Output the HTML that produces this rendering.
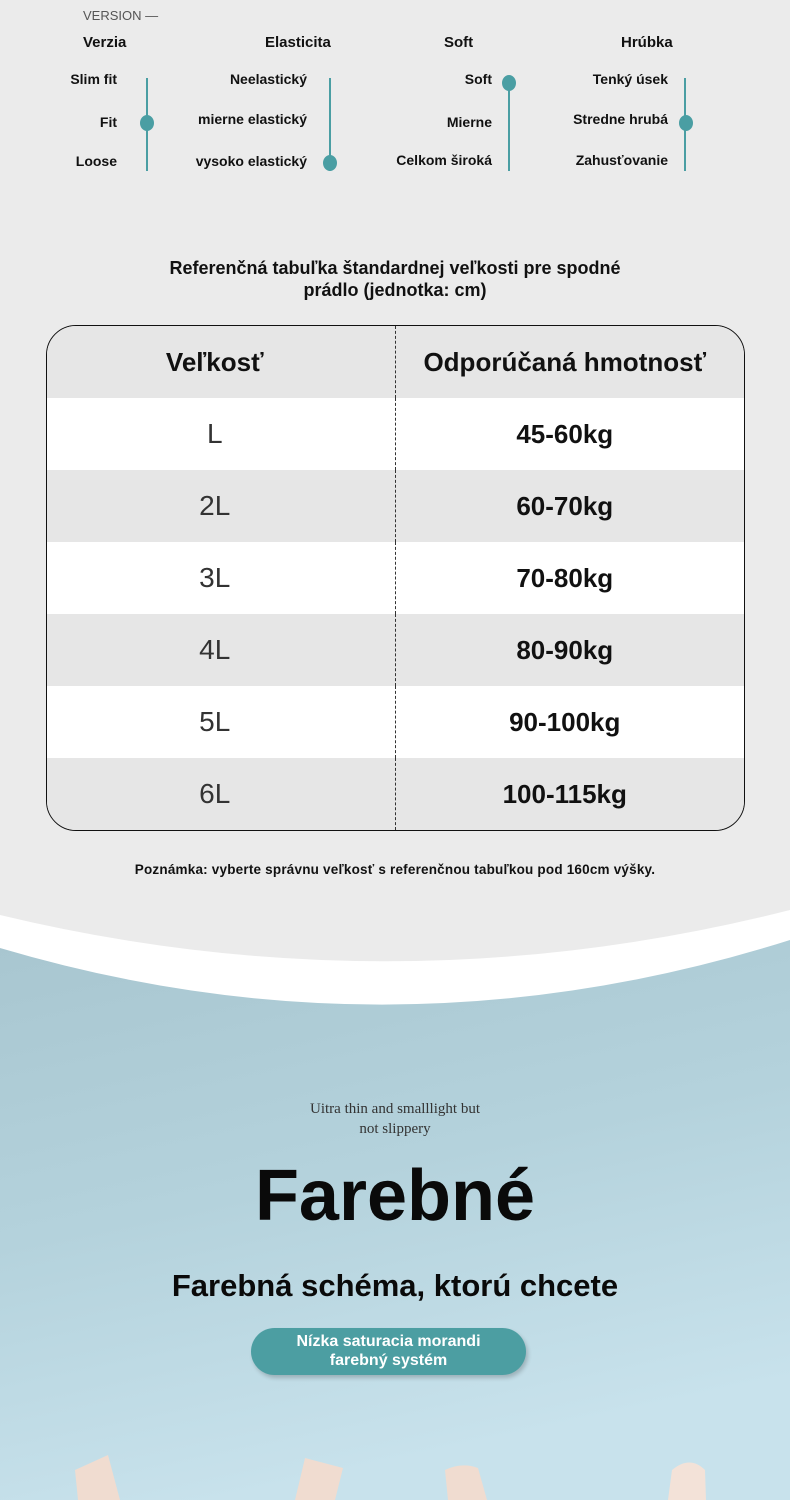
<!DOCTYPE html>
<html><head><meta charset="utf-8"><style>
*{margin:0;padding:0;box-sizing:border-box}
body{width:790px;height:1500px;position:relative;overflow:hidden;background:#ebebeb;font-family:"Liberation Sans","DejaVu Sans",sans-serif;color:#111}
.a{position:absolute;white-space:nowrap}
.b{font-weight:bold;font-size:15px}
.s{font-weight:bold;font-size:14px}
.ln{position:absolute;width:1.5px;background:#4a9ea3}
.dot{position:absolute;width:14px;height:16px;border-radius:50%;background:#4a9ea3}
table{position:absolute;left:46px;top:325px;width:699px;height:504px;border-collapse:separate;border-spacing:0;border:1.5px solid #111;border-radius:30px;overflow:hidden}
td{width:50%;text-align:center;height:72px}
td:first-child{border-right:1.5px dashed #333;font-size:28px;color:#333;padding-right:12px}
td:last-child{font-weight:bold;font-size:26px;color:#111;padding-right:10px}
tr:nth-child(even) td{background:#fff}
tr:nth-child(odd) td{background:#e6e6e6}
tr:first-child td{font-weight:bold;font-size:26px;color:#111}
</style></head><body>
<div class="a" style="left:83px;top:8px;font-size:13px;color:#555">VERSION —</div>
<div class="a b" style="left:83px;top:34px">Verzia</div>
<div class="a b" style="left:265px;top:34px">Elasticita</div>
<div class="a b" style="left:444px;top:34px">Soft</div>
<div class="a b" style="left:621px;top:34px">Hrúbka</div>

<div class="a s" style="right:673px;top:71px">Slim fit</div>
<div class="a s" style="right:673px;top:114px">Fit</div>
<div class="a s" style="right:673px;top:153px">Loose</div>
<div class="ln" style="left:146px;top:78px;height:93px"></div><div class="dot" style="left:140px;top:115px"></div>

<div class="a s" style="right:483px;top:71px">Neelastický</div>
<div class="a s" style="right:483px;top:111px">mierne elastický</div>
<div class="a s" style="right:483px;top:153px">vysoko elastický</div>
<div class="ln" style="left:329px;top:78px;height:93px"></div><div class="dot" style="left:323px;top:155px"></div>

<div class="a s" style="right:298px;top:71px">Soft</div>
<div class="a s" style="right:298px;top:114px">Mierne</div>
<div class="a s" style="right:298px;top:152px">Celkom široká</div>
<div class="ln" style="left:508px;top:78px;height:93px"></div><div class="dot" style="left:502px;top:75px"></div>

<div class="a s" style="right:122px;top:71px">Tenký úsek</div>
<div class="a s" style="right:122px;top:111px">Stredne hrubá</div>
<div class="a s" style="right:122px;top:152px">Zahusťovanie</div>
<div class="ln" style="left:684px;top:78px;height:93px"></div><div class="dot" style="left:679px;top:115px"></div>

<div class="a" style="left:0;width:790px;top:257px;text-align:center;font-weight:bold;font-size:18px;line-height:22px;white-space:normal">Referenčná tabuľka štandardnej veľkosti pre spodné<br>prádlo (jednotka: cm)</div>

<table>
<tr><td>Veľkosť</td><td>Odporúčaná hmotnosť</td></tr>
<tr><td>L</td><td>45-60kg</td></tr>
<tr><td>2L</td><td>60-70kg</td></tr>
<tr><td>3L</td><td>70-80kg</td></tr>
<tr><td>4L</td><td>80-90kg</td></tr>
<tr><td>5L</td><td>90-100kg</td></tr>
<tr><td>6L</td><td>100-115kg</td></tr>
</table>

<div class="a" style="left:0;width:790px;top:862px;text-align:center;font-weight:bold;font-size:13.5px;letter-spacing:0.2px">Poznámka: vyberte správnu veľkosť s referenčnou tabuľkou pod 160cm výšky.</div>

<svg class="a" style="left:0;top:900px" width="790" height="600">
<defs><linearGradient id="g" x1="0" y1="0" x2="0.3" y2="1"><stop offset="0" stop-color="#a8c6d0"/><stop offset="0.5" stop-color="#b4d2dc"/><stop offset="1" stop-color="#c8e2ec"/></linearGradient></defs>
<path d="M0 15 Q395 110 790 10 L790 600 L0 600Z" fill="#fff"/>
<path d="M0 48 Q395 165 790 40 L790 600 L0 600Z" fill="url(#g)"/>
<path d="M75 570 L108 555 L120 600 L78 600Z" fill="#f0dcd0"/>
<path d="M305 558 L343 568 L335 600 L295 600Z" fill="#f0dcd0"/>
<path d="M445 570 Q462 562 478 568 L487 600 L448 600Z" fill="#f0dcd0"/>
<path d="M672 570 Q690 555 705 570 L706 600 L668 600Z" fill="#f3e2d8"/>
</svg>

<div class="a" style="left:0;width:790px;top:1099px;text-align:center;font-family:'Liberation Serif',serif;font-size:15px;line-height:20px;color:#333">Uitra thin and smalllight but<br>not slippery</div>
<div class="a" style="left:0;width:790px;top:1155px;text-align:center;font-weight:bold;font-size:72px;color:#0a0a0a">Farebné</div>
<div class="a" style="left:0;width:790px;top:1268px;text-align:center;font-weight:bold;font-size:31px;color:#0a0a0a">Farebná schéma, ktorú chcete</div>
<div class="a" style="left:251px;top:1328px;width:275px;height:47px;border-radius:24px;background:#4c9ea2;box-shadow:2px 3px 4px rgba(0,0,0,.2);color:#fff;font-weight:bold;font-size:16px;line-height:19px;text-align:center;padding-top:4px">Nízka saturacia morandi<br>farebný systém</div>
</body></html>
